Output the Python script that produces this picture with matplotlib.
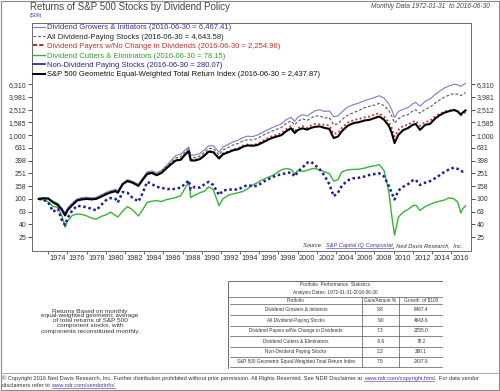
import matplotlib
matplotlib.use('Agg')
import matplotlib.pyplot as plt
from matplotlib.lines import Line2D
from matplotlib.patches import Rectangle
from matplotlib.ticker import NullLocator

plt.rcParams['font.family'] = ['Liberation Sans', 'DejaVu Sans']

# ---------------- data ----------------
dates = [1972.0, 1972.5, 1973.0, 1973.5, 1974.0, 1974.4, 1974.75, 1975.0, 1975.5, 1976.0,
         1976.5, 1977.0, 1977.5, 1978.0, 1978.5, 1979.0, 1979.5, 1980.0, 1980.25, 1980.75,
         1981.25, 1981.75, 1982.4, 1982.8, 1983.3, 1983.8, 1984.3, 1984.8, 1985.3, 1985.8,
         1986.3, 1986.8, 1987.3, 1987.65, 1987.85, 1988.3, 1988.8, 1989.3, 1989.7, 1990.2,
         1990.8, 1991.2, 1991.8, 1992.3, 1992.8, 1993.3, 1993.8, 1994.3, 1994.8, 1995.3,
         1995.8, 1996.3, 1996.8, 1997.3, 1997.8, 1998.3, 1998.7, 1999.0, 1999.5, 2000.0,
         2000.4, 2000.8, 2001.3, 2001.8, 2002.3, 2002.75, 2003.2, 2003.6, 2004.2, 2004.8,
         2005.4, 2006.0, 2006.5, 2007.0, 2007.5, 2008.0, 2008.5, 2008.8, 2009.1, 2009.5,
         2010.0, 2010.5, 2011.0, 2011.3, 2011.75, 2012.3, 2012.8, 2013.3, 2013.8, 2014.3,
         2014.8, 2015.3, 2015.7, 2016.0, 2016.2, 2016.5]

growers = [100, 103, 103, 92, 85, 72, 60, 72, 86, 100,
           104, 106, 104, 106, 115, 126, 134, 142, 134, 176,
           200, 190, 170, 208, 265, 275, 255, 280, 330, 400,
           480, 500, 590, 650, 480, 490, 515, 590, 680, 680,
           540, 650, 720, 790, 830, 920, 965, 950, 1000, 1100,
           1200, 1300, 1400, 1500, 1750, 1900, 1650, 1900, 2100, 2000,
           2200, 2400, 2500, 2350, 2400, 1950, 2000, 2300, 2750, 3000,
           3200, 3500, 3670, 3900, 4150, 3800, 3100, 2500, 1900, 2350,
           2550, 2700, 3100, 3250, 2850, 3400, 3700, 4300, 4900, 5500,
           5900, 6300, 6150, 5800, 6100, 6467]

all_div = [100, 102, 102, 90, 83, 70, 58, 70, 84, 98,
           102, 104, 102, 104, 112, 122, 130, 137, 130, 172,
           196, 186, 166, 203, 258, 265, 245, 268, 315, 375,
           440, 455, 550, 610, 440, 445, 470, 540, 620, 615,
           490, 585, 645, 705, 740, 810, 850, 840, 890, 980,
           1070, 1150, 1230, 1320, 1530, 1680, 1450, 1650, 1800, 1700,
           1850, 2000, 2000, 1850, 1880, 1450, 1500, 1750, 2050, 2250,
           2450, 2700, 2850, 2950, 3150, 2900, 2450, 2000, 1550, 1800,
           2000, 2100, 2400, 2500, 2200, 2550, 2750, 3150, 3550, 3950,
           4250, 4500, 4350, 4150, 4350, 4644]

no_change = [100, 103, 102, 90, 82, 70, 57, 68, 83, 97,
             103, 105, 103, 103, 111, 121, 130, 136, 128, 172,
             194, 184, 164, 200, 255, 262, 240, 262, 308, 360,
             410, 420, 515, 575, 410, 412, 432, 495, 565, 555,
             440, 515, 555, 600, 620, 685, 715, 700, 730, 800,
             880, 960, 1010, 1070, 1240, 1380, 1150, 1290, 1390, 1300,
             1420, 1500, 1470, 1450, 1420, 1050, 1080, 1300, 1560, 1720,
             1800, 1900, 1960, 2100, 2200, 1950, 1600, 1300, 950, 1200,
             1400, 1450, 1620, 1680, 1400, 1600, 1680, 1950, 2150, 2350,
             2450, 2480, 2300, 2050, 2150, 2255]

cutters = [100, 96, 90, 76, 74, 55, 36, 45, 55, 58,
           57, 54, 50, 48, 53, 56, 62, 55, 52, 64,
           76, 68, 54, 66, 88, 92, 94, 91, 97, 101,
           105, 112, 150, 185, 105, 115, 125, 132, 155, 140,
           78, 100, 115, 120, 125, 131, 145, 165, 180, 198,
           215, 230, 255, 285, 300, 290, 245, 280, 270, 280,
           295, 300, 285, 265, 250, 190, 200, 265, 285, 290,
           292, 305, 320, 330, 345, 280, 130, 55, 27, 52,
           62, 68, 78, 80, 66, 76, 82, 88, 92, 96,
           104, 100, 88, 60, 70, 78]

non_div = [100, 97, 88, 63, 70, 47, 39, 50, 66, 78,
           76, 74, 70, 66, 80, 95, 103, 100, 88, 128,
           125, 105, 91, 120, 185, 170, 155, 148, 145, 140,
           145, 150, 175, 195, 140, 155, 150, 170, 185, 165,
           115, 135, 140, 140, 140, 155, 165, 158, 160, 180,
           200, 215, 235, 240, 255, 260, 225, 265, 310, 370,
           380, 340, 290, 230, 170, 110, 125, 160, 195, 210,
           215, 225, 238, 245, 252, 225, 160, 125, 98, 135,
           155, 170, 195, 200, 165, 180, 190, 210, 235, 265,
           290, 310, 295, 275, 268, 280]

sp500_ew = [100, 102, 101, 88, 80, 68, 55, 66, 80, 94,
            98, 100, 98, 100, 108, 118, 126, 132, 125, 170,
            190, 180, 160, 195, 245, 255, 235, 255, 300, 350,
            400, 410, 500, 560, 400, 400, 420, 480, 550, 540,
            430, 500, 540, 580, 600, 660, 690, 680, 700, 760,
            830, 900, 950, 1000, 1150, 1280, 1080, 1200, 1280, 1220,
            1300, 1350, 1370, 1300, 1250, 900, 950, 1150, 1400, 1540,
            1600, 1700, 1740, 1850, 1960, 1750, 1400, 1100, 750, 1010,
            1200, 1290, 1450, 1500, 1210, 1450, 1500, 1800, 2050, 2250,
            2380, 2480, 2350, 2100, 2250, 2438]

series_labels = [
    "Dividend Growers & Initiators (2016-06-30 = 6,467.41)",
    "All Dividend-Paying Stocks (2016-06-30 = 4,643.58)",
    "Dividend Payers w/No Change in Dividends (2016-06-30 = 2,254.96)",
    "Dividend Cutters & Eliminators (2016-06-30 = 78.15)",
    "Non-Dividend Paying Stocks (2016-06-30 = 280.07)",
    "S&P 500 Geometric Equal-Weighted Total Return Index (2016-06-30 = 2,437.87)",
]

y_ticks = [25.12, 39.81, 63.10, 100, 158.49, 251.19, 398.11, 630.96, 1000,
           1584.89, 2511.89, 3981.07, 6309.57]
y_tick_labels = ["25", "40", "63", "100", "158", "251", "398", "631", "1,000",
                 "1,585", "2,512", "3,981", "6,310"]
x_label_years = list(range(1974, 2017, 2))
x_tick_years = list(range(1973, 2017, 2))

table_rows = ["Dividend Growers & Initiators",
              "All Dividend-Paying Stocks",
              "Dividend Payers w/No Change in Dividends",
              "Dividend Cutters & Eliminators",
              "Non-Dividend Paying Stocks",
              "S&P 500 Geometric Equal-Weighted Total Return Index"]
table_gain = ["9.8", "9.0", "7.3", "-0.6", "2.3", "7.5"]
table_growth = ["6467.4", "4643.6", "2255.0", "78.2", "280.1", "2437.9"]

# ---------------- figure ----------------
W, H = 500, 391
fig = plt.figure(figsize=(5, 3.91), dpi=100)
fig.patch.set_facecolor('white')
renderer = fig.canvas.get_renderer()


def fx(px):
    return px / W


def fy(py):
    return 1 - py / H


# outer frame
fig.add_artist(Rectangle((fx(1), fy(389.5)), fx(497.5), 388.5 / H, transform=fig.transFigure,
                         fill=False, edgecolor='#8a8a8a', lw=0.8))
fig.add_artist(Line2D([fx(1), fx(498.5)], [fy(373), fy(373)], transform=fig.transFigure,
                      color='#9a9a9a', lw=0.6))

ax = fig.add_axes([fx(32), fy(250.5), fx(471) - fx(32), fy(22.7) - fy(250.5)])
ax.set_yscale('log')
ax.set_ylim(15.5, 58000)
ax.set_xlim(1971.3, 2017.07)

c_grow = '#7b7bc9'
c_all = '#555555'
c_red = '#cc2a2a'
c_green = '#35b535'
c_blue = '#1c1ca0'
c_black = '#000000'

l_green, = ax.plot(dates, cutters, color=c_green, lw=1.0, zorder=3)
l_blue, = ax.plot(dates, non_div, color=c_blue, lw=1.8, dashes=(1.0, 1.1), zorder=4)
l_red, = ax.plot(dates, no_change, color=c_red, lw=1.3, dashes=(1.0, 1.4), zorder=4)
l_black, = ax.plot(dates, sp500_ew, color=c_black, lw=1.5, zorder=5)
l_all, = ax.plot(dates, all_div, color=c_all, lw=0.8, dashes=(2.5, 1.8), zorder=4)
l_grow, = ax.plot(dates, growers, color=c_grow, lw=0.8, zorder=4)

for s in ax.spines.values():
    s.set_color('#6a6a6a')
    s.set_linewidth(0.7)

ax.set_yticks(y_ticks)
ax.set_yticklabels(y_tick_labels)
ax.yaxis.set_minor_locator(NullLocator())
ax.tick_params(axis='y', which='major', direction='out', length=3, width=0.6,
               labelsize=5.0, colors='#333333', left=True, right=True,
               labelleft=True, labelright=True, pad=1)
ax.set_xticks(x_label_years)
ax.set_xticklabels([str(y) for y in x_label_years])
ax.set_xticks(x_tick_years, minor=True)
ax.tick_params(axis='x', which='major', length=0, labelsize=5.3, colors='#333333', pad=3)
ax.tick_params(axis='x', which='minor', direction='out', length=2.5, width=0.6, colors='#555555')

# legend
handles = [l_grow, l_all, Line2D([], [], color=c_red, lw=1.5, dashes=(2, 1)), l_green,
           Line2D([], [], color=c_blue, lw=1.2), l_black]
leg = ax.legend(handles, series_labels, loc='upper left',
                bbox_to_anchor=(fx(33), fy(24.0)), bbox_transform=fig.transFigure,
                frameon=False, fontsize=5.5, handlelength=1.6, handletextpad=0.25,
                labelspacing=0.27, borderpad=0, borderaxespad=0)
legend_colors = ['#34348a', '#222222', '#c03030', '#2ea02e', '#25258c', '#111111']
for t, c in zip(leg.get_texts(), legend_colors):
    t.set_color(c)

# titles
fig.text(fx(30), fy(7.5), "Returns of S&P 500 Stocks by Dividend Policy", fontsize=7.0,
         color='#444444', va='center', ha='left')
fig.text(fx(490), fy(6.5), "Monthly Data 1972-01-31  to 2016-06-30", fontsize=4.8,
         color='#444444', va='center', ha='right', style='italic')
fig.text(fx(30), fy(15.5), "(S09)", fontsize=3.6, color='#3a3aa0', va='center', ha='left')


def chain(pieces, x_px, y_px, **kw):
    x = x_px
    for txt, col, link in pieces:
        t = fig.text(fx(x), fy(y_px), txt, color=col, va='center', ha='left', **kw)
        bb = t.get_window_extent(renderer)
        if link:
            fig.add_artist(Line2D([fx(x), fx(x + bb.width)], [fy(y_px + 2.6), fy(y_px + 2.6)],
                                  transform=fig.transFigure, color=col, lw=0.4))
        x += bb.width
    return x


chain([("Source:  ", '#333333', False), ("S&P Capital IQ Compustat", '#3a3aa0', True),
       (", Ned Davis Research,  Inc.", '#333333', False)], 303, 245.5,
      fontsize=4.1, style='italic')

# left note
fig.text(fx(90), fy(321), "Returns Based on monthly\nequal-weighted geometric average\n"
         "of total returns of S&P 500\ncomponent stocks, with\ncomponents reconstituted monthly.",
         fontsize=4.6, color='#333333', ha='center', va='center', linespacing=1.0)

# copyright
chain([("\u00a9 Copyright 2016 Ned Davis Research, Inc. Further distribution prohibited without prior "
        "permission. All Rights Reserved. See NDR Disclaimer at ", '#333333', False),
       ("www.ndr.com/copyright.html", '#3a3aa0', True), (".  For data vendor", '#333333', False)],
      2, 378.5, fontsize=4.1)
chain([("disclaimers refer to ", '#333333', False), ("www.ndr.com/vendorinfo/", '#3a3aa0', True)],
      2, 385.5, fontsize=4.1)

# table
tx0, tx1, ty0, ty1 = 228, 443, 281, 369
tax = fig.add_axes([fx(tx0), fy(ty1), fx(tx1) - fx(tx0), (ty1 - ty0) / H])
tax.set_xlim(tx0, tx1)
tax.set_ylim(ty1, ty0)
tax.axis('off')
tc = '#555555'
tax.add_patch(Rectangle((tx0, ty0), tx1 - tx0, ty1 - ty0, fill=False, edgecolor=tc, lw=0.6))
col1, col2 = 362, 399
tkw = dict(fontsize=3.4, color='#333333', ha='center', va='center')
tax.text(335, 285, "Portfolio  Performance  Statistics", **tkw)
tax.text(335, 292.5, "Analysis Dates: 1972-01-31-2016-06-30", **tkw)
tax.plot([tx0, tx1], [296.7, 296.7], color=tc, lw=0.5)
tax.text(296, 300.3, "Portfolio", **tkw)
tax.text(380.5, 300.3, "Gain/Annum %", **tkw)
tax.text(421, 300.3, r"Growth  of \$100", **tkw)
row_lines = [304, 315, 325.7, 336, 346.5, 356.7, 366.5]
for yl in row_lines:
    tax.plot([tx0 + 1.5, tx1 - 1.5], [yl, yl], color=tc, lw=0.5)
tax.plot([col1, col1], [296.7, 366.5], color=tc, lw=0.5)
tax.plot([col2, col2], [296.7, 366.5], color=tc, lw=0.5)
for i, (nm, g, gr) in enumerate(zip(table_rows, table_gain, table_growth)):
    yc = (row_lines[i] + row_lines[i + 1]) / 2
    tax.text(296, yc, nm, **tkw)
    tax.text(380.5, yc, g, **tkw)
    tax.text(421, yc, gr, **tkw)

fig.savefig('out.png', dpi=100)
